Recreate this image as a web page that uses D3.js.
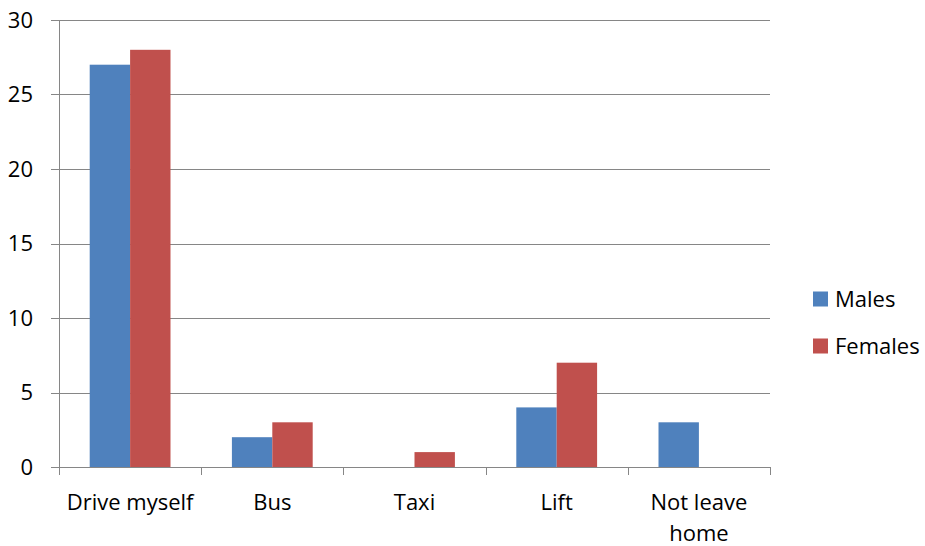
<!DOCTYPE html>
<html><head><meta charset="utf-8">
<script src="https://cdn.jsdelivr.net/npm/d3@7"></script>
<style>body{margin:0;background:#fff}</style>
</head><body>
<svg id="c" width="925" height="546"></svg>
<script>
const categories = ["Drive myself", "Bus", "Taxi", "Lift", "Not leave home"];
const males = [27, 2, 0, 4, 3];
const females = [28, 3, 1, 7, 0];
const seriesNames = ["Males", "Females"];
const seriesColors = ["#4F81BD", "#C0504D"];
const yTicks = [0, 5, 10, 15, 20, 25, 30];

const svg = d3.select("#c");
const font = "'Open Sans', Lato, sans-serif";
const fs = 22;
const pLeft = 59, pRight = 770, pTop = 20, pBottom = 467;
const x = d3.scaleBand().domain(categories).range([pLeft, pRight]);
const xs = d3.scaleBand().domain(seriesNames).range([0, x.bandwidth()]).paddingInner(0).paddingOuter(0.76);
const y = d3.scaleLinear().domain([0, 30]).range([pBottom, pTop]);
const grid = "#868686";

svg.append("g").selectAll("line").data(yTicks).join("line")
  .attr("x1", pLeft - 8).attr("x2", pRight)
  .attr("y1", d => Math.round(y(d)) + 0.5).attr("y2", d => Math.round(y(d)) + 0.5)
  .attr("stroke", grid).attr("stroke-width", 1);
svg.append("line").attr("x1", pLeft + 0.5).attr("x2", pLeft + 0.5).attr("y1", pTop).attr("y2", pBottom + 8)
  .attr("stroke", grid);
const xt = d3.range(categories.length + 1).map(i => pLeft + i * x.step());
svg.append("g").selectAll("line").data(xt).join("line")
  .attr("x1", d => Math.round(d) + 0.5).attr("x2", d => Math.round(d) + 0.5)
  .attr("y1", pBottom).attr("y2", pBottom + 8).attr("stroke", grid);

svg.append("g").selectAll("text").data(yTicks).join("text")
  .attr("x", 33).attr("y", d => y(d)).attr("dy", "0.36em")
  .attr("text-anchor", "end").attr("font-family", font).attr("font-size", fs).attr("fill", "#000")
  .text(d => d);

const data = [males, females];
data.forEach((vals, si) => {
  svg.append("g").selectAll("rect").data(categories).join("rect")
    .attr("x", (c) => x(c) + xs(seriesNames[si]))
    .attr("width", xs.bandwidth())
    .attr("y", (c, i) => y(vals[i]))
    .attr("height", (c, i) => y(0) - y(vals[i]))
    .attr("fill", seriesColors[si]);
});

const lab = svg.append("g");
categories.forEach(c => {
  const cx = x(c) + x.bandwidth() / 2;
  const words = c === "Not leave home" ? ["Not leave", "home"] : [c];
  words.forEach((w, j) => {
    lab.append("text").attr("x", cx).attr("y", 510 + j * 31)
      .attr("text-anchor", "middle").attr("font-family", font).attr("font-size", fs).attr("fill", "#000")
      .text(w);
  });
});

seriesNames.forEach((s, i) => {
  const ly = 299 + i * 47;
  svg.append("rect").attr("x", 813).attr("y", ly - 7.5).attr("width", 15).attr("height", 15).attr("fill", seriesColors[i]);
  svg.append("text").attr("x", 835).attr("y", ly).attr("dy", "0.36em")
    .attr("font-family", font).attr("font-size", fs).attr("fill", "#000").text(s);
});
</script>
</body></html>
